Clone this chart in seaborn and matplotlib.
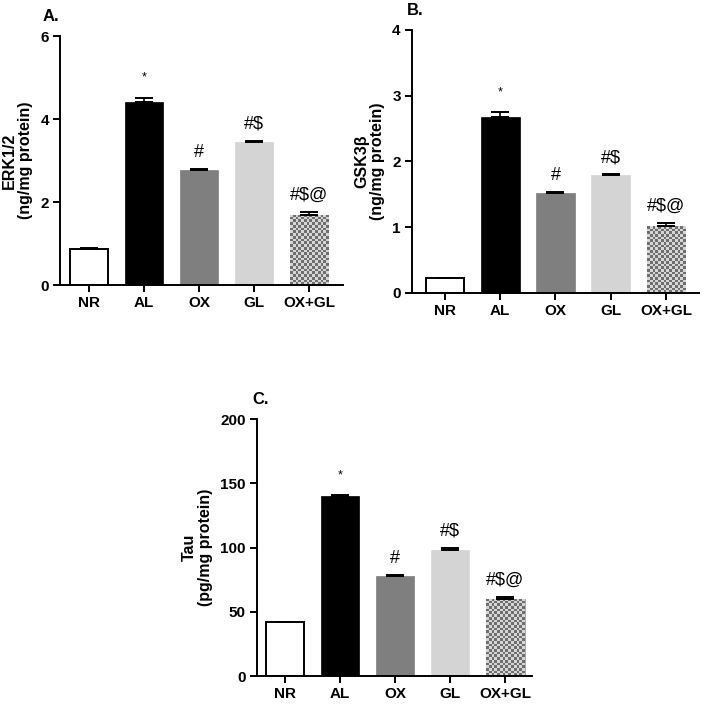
import numpy as np
import pandas as pd
import matplotlib
matplotlib.use("Agg")
import matplotlib.pyplot as plt
import seaborn as sns

# Données
groups = ["NR", "AL", "OX", "GL", "OX+GL"]
erk_mean = [0.88, 4.42, 2.78, 3.45, 1.70]
erk_err = [0.01, 0.10, 0.02, 0.03, 0.06]
gsk_mean = [0.22, 2.67, 1.52, 1.79, 1.01]
gsk_err = [0.0, 0.08, 0.01, 0.01, 0.05]
tau_mean = [41.8, 139.8, 77.5, 98.0, 60.2]
tau_err = [0.3, 0.8, 1.0, 1.7, 1.0]
marks = ["", "*", "#", "#$", "#$@"]

bar_colors = ["white", "black", "#7f7f7f", "#d4d4d4", "#9a9a9a"]

sns.set_style("ticks")
plt.rcParams["font.family"] = ["Liberation Sans", "DejaVu Sans"]
plt.rcParams["text.color"] = "black"
plt.rcParams["axes.labelcolor"] = "black"
plt.rcParams["xtick.color"] = "black"
plt.rcParams["ytick.color"] = "black"
plt.rcParams["axes.edgecolor"] = "black"

fig = plt.figure(figsize=(7.04, 7.09), dpi=100)

panels = [
    ("A.", -17, "ERK1/2\n(ng/mg protein)", erk_mean, erk_err, [0, 2, 4, 6], 6,
     [0.0852, 0.598, 0.402, 0.351], (-0.53, 4.62)),
    ("B.", -5, "GSK3β\n(ng/mg protein)", gsk_mean, gsk_err, [0, 1, 2, 3, 4], 4,
     [0.585, 0.587, 0.408, 0.371], (-0.6, 4.6)),
    ("C.", -5, "Tau\n(pg/mg protein)", tau_mean, tau_err, [0, 50, 100, 150, 200], 200,
     [0.365, 0.0465, 0.391, 0.3625], (-0.51, 4.49)),
]


def draw_checker(ax, patch, square_px=2.7):
    # Damier gris pour la barre OX+GL, découpé sur la forme de la barre
    x0, y0 = patch.get_x(), patch.get_y()
    w, h = patch.get_width(), patch.get_height()
    bb = patch.get_window_extent()
    ncol = max(1, int(round(bb.width / square_px)))
    nrow = max(1, int(round(bb.height / square_px)))
    grid = (np.indices((nrow, ncol)).sum(axis=0) % 2).astype(float)
    cmap = matplotlib.colors.ListedColormap(["#6e6e6e", "#d6d6d6"])
    im = ax.imshow(grid, cmap=cmap, extent=(x0, x0 + w, y0, y0 + h),
                   aspect="auto", interpolation="nearest", origin="lower", zorder=2)
    im.set_clip_path(patch)


for letter, dx, ylabel, means, errs, yticks, ymax, rect, xlim in panels:
    ax = fig.add_axes(rect)
    df = pd.DataFrame({"group": groups, "value": means})
    sns.barplot(data=df, x="group", y="value", hue="group", palette=bar_colors,
                legend=False, width=0.7, edgecolor="black", linewidth=1.4,
                ax=ax, zorder=1)
    for i, p in enumerate(ax.patches):
        if i == 0:
            p.set_edgecolor("black")
        else:
            p.set_edgecolor(bar_colors[i])
            p.set_linewidth(0.5)

    ax.errorbar(range(len(groups)), means, yerr=[np.zeros(len(errs)), errs],
                fmt="none", ecolor="black", elinewidth=1.2, capsize=6.5,
                capthick=1.4, zorder=3)

    ax.set_xlim(*xlim)
    ax.set_ylim(0, ymax)
    ax.set_yticks(yticks)
    ax.set_xlabel("")
    ax.set_ylabel(ylabel, fontsize=11.5, fontweight="bold", labelpad=5,
                  linespacing=1.1)
    sns.despine(ax=ax)
    for s in ["left", "bottom"]:
        ax.spines[s].set_linewidth(1.4)
    ax.tick_params(axis="both", width=1.4, length=5, labelsize=11, pad=3)
    for lab in ax.get_xticklabels() + ax.get_yticklabels():
        lab.set_fontweight("bold")

    for i, m in enumerate(marks):
        if not m:
            continue
        top = means[i] + errs[i]
        fs = 9 if m == "*" else 13
        ax.annotate(m, (i, top), xytext=(0, 6 if m != "*" else 10),
                    textcoords="offset points", ha="center", va="bottom",
                    fontsize=fs)

    ax.annotate(letter, (0, 1), xycoords="axes fraction", xytext=(dx, 12),
                textcoords="offset pixels", fontsize=12, fontweight="bold",
                ha="left", va="bottom")

    fig.canvas.draw()
    draw_checker(ax, ax.patches[4])
    ax.set_xlim(*xlim)
    ax.set_ylim(0, ymax)

fig.savefig("out.png", dpi=100)
